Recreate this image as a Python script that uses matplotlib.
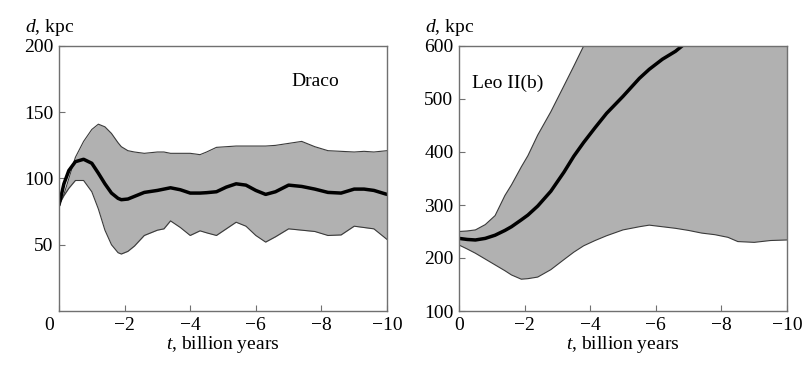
import matplotlib
matplotlib.use('Agg')
import matplotlib.pyplot as plt
import matplotlib.transforms as mtransforms
from matplotlib import rcParams

# Draco: time (billion years) and distance (kpc)
dracoT = [0, -0.15, -0.3, -0.5, -0.75, -1.0, -1.2, -1.4, -1.6, -1.8, -1.9,
          -2.1, -2.3, -2.6, -3.0, -3.2, -3.4, -3.7, -4.0, -4.3, -4.5, -4.8,
          -5.1, -5.4, -5.7, -6.0, -6.3, -6.6, -7.0, -7.4, -7.8, -8.2, -8.6,
          -9.0, -9.3, -9.6, -10]
dracoMean = [80, 96, 106, 112.7, 114.5, 111.5, 104, 96, 89, 85, 84,
             84.5, 86.5, 89.5, 91, 92, 93, 91.5, 89, 89, 89.3, 90,
             93.5, 96, 95, 91, 88, 90, 95, 94, 92, 89.5, 89,
             92, 92, 91, 88]
dracoLow = [80, 87, 92.6, 98.5, 98.5, 90, 77, 61, 50, 44, 43,
            45, 49, 57, 61, 62, 68, 63, 57, 60.5, 59, 57,
            62, 67, 64, 57, 52, 56, 62, 61, 60, 57, 57.4,
            64, 63, 62, 54]
dracoHigh = [80, 88, 100, 116, 128, 137, 141, 139, 134, 127, 124,
             121, 120, 119, 120, 120, 119, 119, 119, 118, 120, 123.5,
             124, 124.5, 124.5, 124.5, 124.5, 125, 126.5, 128, 124, 121, 120.5,
             120, 120.5, 120, 121]

# Leo II(b)
leoT = [0, -0.25, -0.5, -0.8, -1.1, -1.4, -1.6, -1.9, -2.1, -2.4, -2.8,
        -3.2, -3.5, -3.8, -4.15, -4.5, -5.0, -5.5, -5.8, -6.2, -6.6, -7.0,
        -7.4, -7.8, -8.2, -8.5, -9.0, -9.5, -10]
leoMean = [237, 235, 234, 237, 243, 252, 259, 272, 281, 298, 326,
           362, 392, 418, 446, 473, 505, 539, 556, 575, 590, 610,
           630, 650, 670, 690, 715, 740, 765]
leoLow = [224.5, 217, 209, 198, 187, 176, 168, 160, 161, 164, 178,
          197, 211, 223, 233, 242, 253, 259, 262, 259, 256, 252,
          247, 244, 239, 231, 229.5, 233, 234]
leoHigh = [250, 251, 253, 263, 280, 318, 338, 372, 393, 432, 476,
           525, 562, 600, 640, 680, 740, 800, 840, 880, 920, 960,
           1000, 1040, 1080, 1110, 1160, 1200, 1250]

xTicks = [0, -2, -4, -6, -8, -10]

rcParams['font.family'] = 'Liberation Serif'
rcParams['font.size'] = 14
rcParams['mathtext.fontset'] = 'custom'
rcParams['mathtext.rm'] = 'Liberation Serif'
rcParams['mathtext.it'] = 'Liberation Serif:italic'

fillColor = '#b1b1b1'
edgeColor = '#3a3a3a'
frameColor = '#707070'

fig = plt.figure(figsize=(8.09, 3.66), dpi=100)
axL = fig.add_axes([59/809, 55/366, 328/809, 265/366])
axR = fig.add_axes([459/809, 55/366, 328/809, 265/366])


def drawPanel(ax, t, low, mean, high, ylim, yticks, name, namePos):
    ax.fill_between(t, low, high, color=fillColor, linewidth=0)
    ax.plot(t, high, color=edgeColor, lw=0.8)
    ax.plot(t, low, color=edgeColor, lw=0.8)
    ax.plot(t, mean, color='black', lw=2.5, solid_capstyle='round',
            solid_joinstyle='round')
    ax.set_xlim(0, -10)
    ax.set_ylim(*ylim)
    ax.set_xticks(xTicks)
    ax.set_yticks(yticks)
    ax.set_yticklabels([str(v) for v in yticks])
    ax.tick_params(direction='in', length=4, width=0.8, color=frameColor,
                   labelsize=14, top=False, right=False)
    ax.tick_params(axis='y', pad=4)
    ax.tick_params(axis='x', pad=4)
    for sp in ax.spines.values():
        sp.set_color(frameColor)
        sp.set_linewidth(1.0)
    ax.set_xlabel('$t$, billion years', fontsize=14, labelpad=0)
    ax.text(-0.105, 1.03, '$d$, kpc', transform=ax.transAxes, fontsize=14,
            ha='left', va='bottom')
    ax.text(namePos[0], namePos[1], name, fontsize=14, ha='left',
            va='center')


drawPanel(axL, dracoT, dracoLow, dracoMean, dracoHigh, (0, 200),
          [50, 100, 150, 200], 'Draco', (-7.1, 173))
drawPanel(axR, leoT, leoLow, leoMean, leoHigh, (100, 600),
          [100, 200, 300, 400, 500, 600], 'Leo II(b)', (-0.4, 530))

# shift the left panel's corner "0" a little to the left
lbl = axL.get_xticklabels()[0]
lbl.set_transform(lbl.get_transform() +
                  mtransforms.ScaledTranslation(-0.1, 0, fig.dpi_scale_trans))

fig.savefig('out.png', dpi=100)
